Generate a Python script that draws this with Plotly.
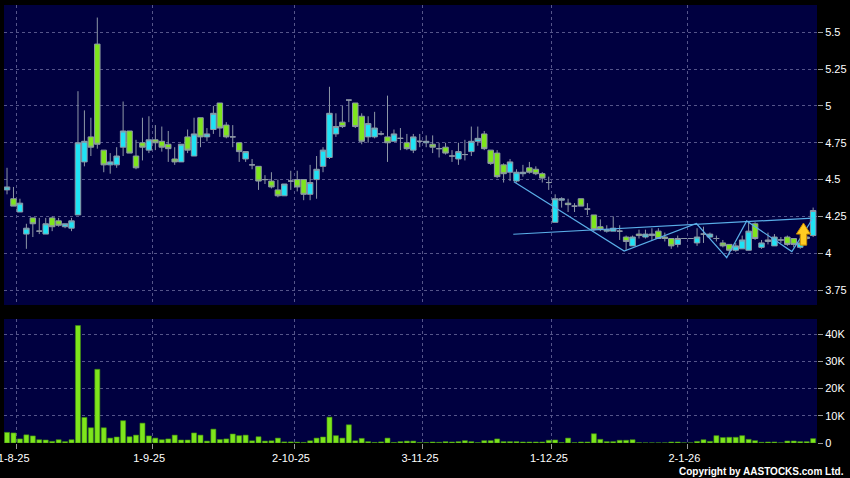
import plotly.graph_objects as go

# ---- data (trading-day index 0 = 30-Jul-2025) ----
opens = [4.43,4.37,4.28,4.13,4.24,4.15,4.13,4.24,4.22,4.18,4.17,4.26,4.62,4.79,5.42,4.70,4.60,4.60,4.72,4.83,
         4.66,4.75,4.70,4.77,4.76,4.74,4.64,4.62,4.79,4.66,4.92,4.79,4.84,5.02,4.87,4.79,4.75,4.64,4.60,4.59,
         4.50,4.49,4.43,4.39,4.49,4.50,4.50,4.40,4.50,4.59,4.65,4.81,4.89,5.04,5.02,4.93,4.79,4.79,4.81,4.79,
         4.76,4.78,4.75,4.70,4.76,4.75,4.74,4.71,4.72,4.66,4.64,4.67,4.69,4.76,4.81,4.70,4.68,4.60,4.55,4.49,
         4.54,4.58,4.57,4.54,4.48,4.21,4.36,4.34,4.32,4.37,4.30,4.26,4.18,4.15,4.15,4.15,4.11,4.05,4.13,4.11,
         4.12,4.15,4.11,4.10,4.06,4.10,4.10,4.07,4.13,4.11,4.10,4.07,4.06,4.02,4.03,4.02,4.20,4.04,4.08,4.05,
         4.09,4.11,4.10,4.04,4.10,4.12]
highs = [4.58,4.45,4.37,4.20,4.24,4.24,4.24,4.25,4.24,4.20,4.24,5.10,4.97,4.92,5.60,4.70,4.68,4.72,5.03,4.83,
         4.77,4.92,4.93,4.87,4.86,4.83,4.72,4.74,4.84,4.92,4.92,4.85,5.00,5.02,4.89,4.87,4.75,4.69,4.64,4.59,
         4.53,4.55,4.50,4.47,4.56,4.56,4.50,4.60,4.66,4.72,5.13,4.95,5.00,5.04,5.02,4.95,4.93,4.96,4.83,5.07,
         4.84,4.85,4.81,4.81,4.81,4.80,4.80,4.75,4.75,4.70,4.75,4.77,4.86,4.86,4.83,4.70,4.70,4.61,4.64,4.57,
         4.60,4.62,4.59,4.55,4.52,4.40,4.38,4.37,4.34,4.37,4.34,4.26,4.23,4.19,4.25,4.19,4.12,4.12,4.16,4.16,
         4.17,4.17,4.14,4.10,4.12,4.10,4.10,4.17,4.18,4.14,4.12,4.09,4.06,4.07,4.12,4.21,4.21,4.09,4.14,4.13,
         4.11,4.12,4.10,4.09,4.12,4.31]
lows = [4.40,4.32,4.28,4.03,4.11,4.13,4.13,4.15,4.18,4.17,4.15,4.26,4.59,4.66,4.71,4.55,4.54,4.58,4.66,4.68,
        4.57,4.63,4.68,4.70,4.69,4.62,4.60,4.62,4.68,4.66,4.72,4.76,4.81,4.79,4.78,4.72,4.62,4.62,4.57,4.43,
        4.47,4.44,4.38,4.39,4.43,4.42,4.36,4.36,4.37,4.55,4.64,4.79,4.85,4.89,4.85,4.74,4.75,4.78,4.80,4.62,
        4.76,4.70,4.70,4.68,4.72,4.72,4.68,4.65,4.67,4.62,4.60,4.63,4.66,4.73,4.70,4.60,4.51,4.48,4.49,4.48,
        4.52,4.54,4.53,4.48,4.43,4.21,4.31,4.28,4.28,4.32,4.26,4.15,4.15,4.14,4.15,4.09,4.02,4.05,4.10,4.10,
        4.09,4.10,4.08,4.03,4.04,4.10,4.10,4.05,4.07,4.10,4.08,4.04,3.99,4.01,4.03,4.02,4.09,4.03,4.06,4.05,
        4.07,4.05,4.04,4.03,4.09,4.11]
closes = [4.45,4.32,4.34,4.17,4.20,4.15,4.20,4.18,4.19,4.20,4.22,4.75,4.76,4.72,4.74,4.60,4.62,4.66,4.83,4.68,
          4.58,4.72,4.77,4.75,4.72,4.71,4.62,4.74,4.70,4.81,4.79,4.81,4.95,4.85,4.79,4.79,4.69,4.69,4.60,4.49,
          4.50,4.45,4.39,4.47,4.49,4.45,4.40,4.48,4.57,4.70,4.95,4.86,4.86,5.04,4.86,4.76,4.88,4.85,4.81,4.75,
          4.81,4.78,4.71,4.79,4.76,4.76,4.72,4.71,4.68,4.66,4.69,4.67,4.76,4.78,4.71,4.61,4.52,4.54,4.62,4.55,
          4.55,4.55,4.54,4.51,4.48,4.37,4.37,4.33,4.32,4.32,4.30,4.16,4.16,4.16,4.17,4.15,4.08,4.11,4.12,4.13,
          4.13,4.10,4.10,4.05,4.10,4.10,4.10,4.11,4.13,4.13,4.10,4.05,4.02,4.05,4.09,4.15,4.10,4.07,4.09,4.11,
          4.09,4.06,4.06,4.07,4.11,4.29]
volumes_k = [3.9,3.7,1.5,3.0,2.6,1.2,1.1,0.6,1.2,0.5,1.2,43.2,9.4,5.6,27.1,5.6,1.8,2.2,8.2,2.3,
             2.9,7.3,2.6,1.8,1.2,1.5,2.9,1.1,1.1,3.7,2.9,0.7,5.1,1.3,1.5,3.3,2.7,2.9,0.8,2.3,
             0.7,0.8,1.8,0.4,0.4,0.3,0.2,0.8,1.8,2.2,9.5,2.7,1.8,6.7,0.8,1.7,0.5,0.2,0.4,1.8,
             0.2,0.5,0.7,0.7,0.15,0.15,0.37,0.25,0.5,0.37,0.5,0.86,0.5,0.12,0.86,0.86,1.5,0.5,0.5,0.5,
             0.37,0.37,0.37,0.37,1.0,1.1,0.12,1.8,0.12,0.37,0.37,3.4,1.35,0.5,0.5,1.0,1.0,1.2,0.12,0.05,
             0.05,0.05,0.05,0.37,0.37,0.05,0.05,0.6,1.2,0.6,2.7,2.0,2.1,2.1,2.7,1.35,0.86,0.25,0.37,0.37,
             0.05,0.74,0.74,0.5,0.5,1.6]
volumes = [v * 1000 for v in volumes_k]
day_index = list(range(len(opens)))

# month boundary ticks (between last day of prior month and first trading day)
month_tick_pos = [1.5, 22.5, 44.5, 64.5, 84.5, 105.5]
month_tick_text = ["1-8-25", "1-9-25", "2-10-25", "3-11-25", "1-12-25", "2-1-26"]

price_ticks = [3.75, 4, 4.25, 4.5, 4.75, 5, 5.25, 5.5]
price_tick_text = ["3.75", "4", "4.25", "4.5", "4.75", "5", "5.25", "5.5"]
vol_ticks = [0, 10000, 20000, 30000, 40000]
vol_tick_text = ["0", "10K", "20K", "30K", "40K"]

# drawn trend lines (index, price)
zigzag_x = [78.6, 95.7, 106.9, 111.6, 114.7, 121.7, 124.8]
zigzag_y = [4.486, 4.015, 4.202, 3.970, 4.219, 4.011, 4.226]
resist_x = [78.5, 125.0]
resist_y = [4.129, 4.239]

signal_x = 123.5
signal_y = 4.055

CYAN = "#1fe3f5"
GREEN = "#7ee51c"
WICK = "#8e98a6"
TREND = "#5aaee8"
GRID = "#55558a"
BG = "#000040"

fig = go.Figure()
fig.add_trace(go.Candlestick(
    x=day_index, open=opens, high=highs, low=lows, close=closes,
    increasing=dict(fillcolor=CYAN, line=dict(color=WICK, width=1)),
    decreasing=dict(fillcolor=GREEN, line=dict(color=WICK, width=1)),
    whiskerwidth=0, xaxis="x", yaxis="y", showlegend=False, hoverinfo="skip"))
fig.add_trace(go.Scatter(x=zigzag_x, y=zigzag_y, mode="lines",
                         line=dict(color=TREND, width=1.2), xaxis="x", yaxis="y",
                         showlegend=False, hoverinfo="skip"))
fig.add_trace(go.Scatter(x=resist_x, y=resist_y, mode="lines",
                         line=dict(color=TREND, width=1.2), xaxis="x", yaxis="y",
                         showlegend=False, hoverinfo="skip"))
fig.add_trace(go.Bar(x=day_index, y=volumes, marker=dict(color=GREEN, line=dict(color="#3f8f10", width=0.6)),
                     xaxis="x2", yaxis="y2", showlegend=False, hoverinfo="skip"))

# yellow up-arrow signal icon
sx, sy = signal_x, signal_y
arrow_path = (f"M {sx},{sy+0.15} L {sx+1.1},{sy+0.075} L {sx+0.5},{sy+0.075} "
              f"L {sx+0.5},{sy} L {sx-0.5},{sy} L {sx-0.5},{sy+0.075} L {sx-1.1},{sy+0.075} Z")
fig.add_shape(type="path", path=arrow_path, xref="x", yref="y",
              fillcolor="#ffcc22", line=dict(color="#c88a00", width=1))

xr = [-0.47, 125.6]
axis_font = dict(family="Liberation Sans, Arial, sans-serif", size=11, color="#ffffff")
common_x = dict(range=xr, tickmode="array", tickvals=month_tick_pos, showgrid=True,
                gridcolor=GRID, griddash="3px,3px", gridwidth=1, zeroline=False,
                showline=False, fixedrange=True)

fig.update_layout(
    width=850, height=478,
    margin=dict(l=4, r=33, t=5, b=35),
    paper_bgcolor="#000000", plot_bgcolor=BG,
    bargap=0.22, boxgap=0.15, boxgroupgap=0,
    xaxis=dict(**common_x, domain=[0, 1], anchor="y", showticklabels=False,
               ticks="", rangeslider=dict(visible=False)),
    yaxis=dict(domain=[0.3151, 1], range=[3.6487, 5.6853], side="right",
               tickmode="array", tickvals=price_ticks, ticktext=price_tick_text,
               showgrid=True, gridcolor=GRID, griddash="3px,3px", zeroline=False,
               ticks="outside", ticklen=5, tickcolor="#9a9a9a", tickfont=axis_font,
               automargin=False, fixedrange=True),
    xaxis2=dict(**common_x, domain=[0, 1], anchor="y2", matches="x",
                ticktext=month_tick_text, showticklabels=True,
                ticks="outside", ticklen=5, tickcolor="#9a9a9a", tickfont=axis_font,
                ticklabelshift=-3, ticklabeloverflow="allow", automargin=False),
    yaxis2=dict(domain=[0, 0.2831], range=[0, 45600], side="right",
                tickmode="array", tickvals=vol_ticks, ticktext=vol_tick_text,
                showgrid=True, gridcolor=GRID, griddash="3px,3px", zeroline=False,
                ticks="outside", ticklen=5, tickcolor="#9a9a9a", tickfont=axis_font,
                automargin=False, fixedrange=True),
    annotations=[dict(text="Copyright by AASTOCKS.com Ltd.", xref="paper", yref="paper",
                      x=1.0357, y=-0.064, xanchor="right", yanchor="middle", showarrow=False,
                      font=dict(family="Liberation Sans, Arial, sans-serif", size=10,
                                color="#ffffff", weight="bold"))],
)

fig.write_html("out.html", config={"displayModeBar": False},
               post_script="document.body.style.margin='0px';document.body.style.overflow='hidden';")
